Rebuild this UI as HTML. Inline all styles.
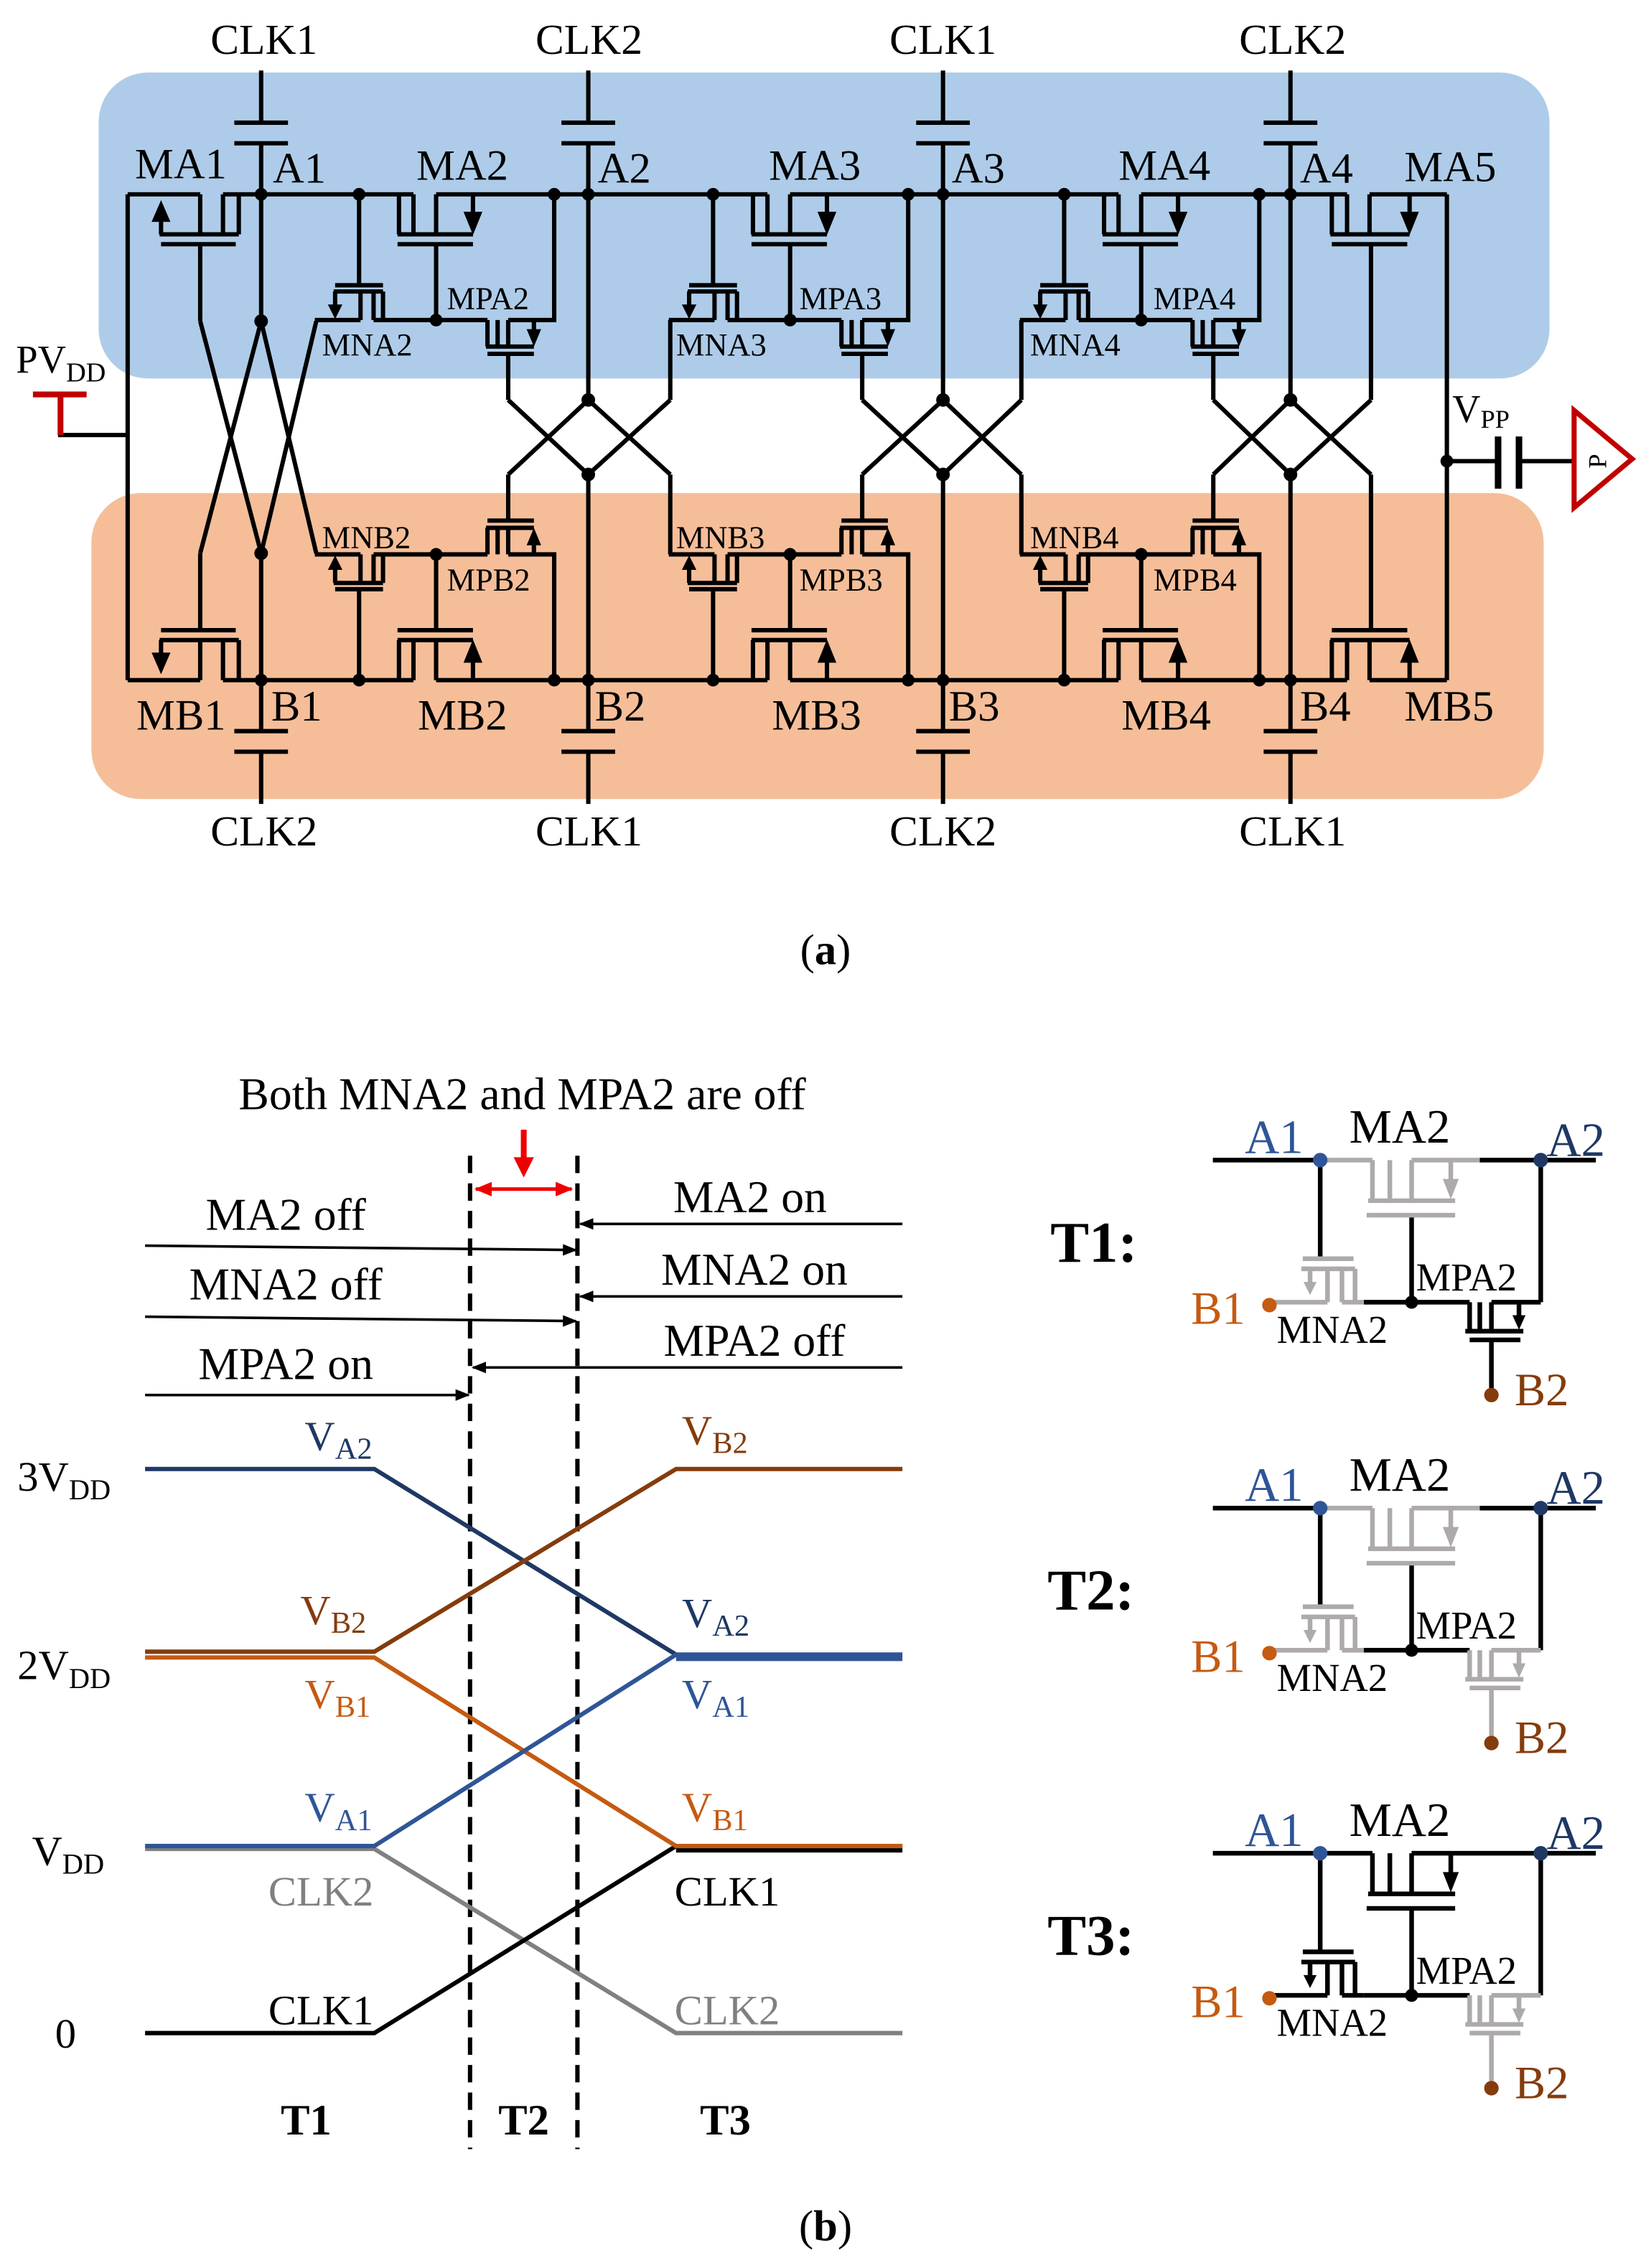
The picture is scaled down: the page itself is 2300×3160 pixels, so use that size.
<!DOCTYPE html>
<html><head><meta charset="utf-8">
<style>
html,body{margin:0;padding:0;background:#fff;}
svg{display:block;}
text{font-family:"Liberation Serif",serif;}
</style></head>
<body>
<svg width="2300" height="3160" viewBox="0 0 1138 1564" preserveAspectRatio="none" xmlns="http://www.w3.org/2000/svg">
<defs>
<marker id="ah" markerWidth="10" markerHeight="8" refX="9" refY="4" orient="auto" markerUnits="userSpaceOnUse">
<path d="M0,0 L10,4 L0,8 Z" fill="#000"/></marker>
<marker id="rh" markerWidth="12" markerHeight="10" refX="11" refY="5" orient="auto-start-reverse" markerUnits="userSpaceOnUse">
<path d="M0,0 L12,5 L0,10 Z" fill="#e00"/></marker>

<g id="st" stroke="#000" stroke-width="3" fill="none">
 <line x1="-27.5" y1="134" x2="-27.5" y2="196.7"/>
 <line x1="-44" y1="196.7" x2="-11" y2="196.7"/>
 <line x1="-45" y1="201" x2="-11" y2="201"/>
 <path d="M-17.5,220.7 V201 M-11,201 V220.7"/>
 <line x1="-26.5" y1="201" x2="-26.5" y2="220.7"/>
 <line x1="-44" y1="201" x2="-44" y2="211"/>
 <polygon points="-49,210 -39,210 -44,220" fill="#000" stroke="none"/>
 <line x1="-58" y1="220.7" x2="-26.5" y2="220.7"/>
 <line x1="-17.5" y1="220.7" x2="61" y2="220.7"/>
 <line x1="25.6" y1="168.4" x2="25.6" y2="220.7"/>
 <path d="M0,134 V161.6 M10,134 V161.6"/>
 <line x1="-1" y1="161.6" x2="51" y2="161.6"/>
 <line x1="25.6" y1="134" x2="25.6" y2="161.6"/>
 <line x1="51" y1="134" x2="51" y2="147"/>
 <polygon points="44.5,146 57.5,146 51,162" fill="#000" stroke="none"/>
 <line x1="-1" y1="168.4" x2="51" y2="168.4"/>
 <path d="M61,220.7 V239 M68,220.7 V239"/>
 <line x1="60" y1="239" x2="93" y2="239"/>
 <line x1="75.3" y1="220.7" x2="75.3" y2="239"/>
 <polyline points="75.3,220.7 107,220.7 107,134"/>
 <line x1="93" y1="220.7" x2="93" y2="228"/>
 <polygon points="88,227 98,227 93,239" fill="#000" stroke="none"/>
 <line x1="61" y1="244" x2="93" y2="244"/>
 <line x1="75.3" y1="244" x2="75.3" y2="275.8"/>
 <g fill="#000" stroke="none">
  <circle cx="-27.5" cy="134" r="4.4"/><circle cx="25.6" cy="220.7" r="4.4"/><circle cx="107" cy="134" r="4.4"/>
 </g>
</g>

<g id="half" stroke="#000" stroke-width="3" fill="none">
 <line x1="88" y1="134" x2="138" y2="134"/>
 <line x1="153.7" y1="134" x2="285" y2="134"/>
 <line x1="300.6" y1="134" x2="529" y2="134"/>
 <line x1="544.6" y1="134" x2="771" y2="134"/>
 <line x1="786.6" y1="134" x2="928.5" y2="134"/>
 <line x1="944" y1="134" x2="997.3" y2="134"/>
 <line x1="138" y1="134" x2="138" y2="161.6"/>
 <line x1="110" y1="161.6" x2="164.6" y2="161.6"/>
 <line x1="111" y1="161.6" x2="111" y2="152"/>
 <polygon points="104.5,153 117.5,153 111,138" fill="#000" stroke="none"/>
 <path d="M153.7,134 V161.6 M164.6,134 V161.6"/>
 <line x1="111" y1="168.4" x2="162.5" y2="168.4"/>
 <line x1="138" y1="168.4" x2="138" y2="221.5"/>
 <path d="M918,134 V161.6 M928.5,134 V161.6"/>
 <line x1="917" y1="161.6" x2="971.6" y2="161.6"/>
 <line x1="944" y1="134" x2="944" y2="161.6"/>
 <line x1="971.6" y1="134" x2="971.6" y2="147"/>
 <polygon points="965,146 978,146 971.6,162" fill="#000" stroke="none"/>
 <line x1="918" y1="168.4" x2="970" y2="168.4"/>
 <line x1="945" y1="168.4" x2="945" y2="275.8"/>
 <line x1="180" y1="48.6" x2="180" y2="84.6"/><line x1="161.5" y1="84.6" x2="198.5" y2="84.6"/><line x1="161.5" y1="98.8" x2="198.5" y2="98.8"/><line x1="180" y1="98.8" x2="180" y2="221.5"/>
 <line x1="405.5" y1="48.6" x2="405.5" y2="84.6"/><line x1="387" y1="84.6" x2="424" y2="84.6"/><line x1="387" y1="98.8" x2="424" y2="98.8"/><line x1="405.5" y1="98.8" x2="405.5" y2="275.8"/>
 <line x1="650" y1="48.6" x2="650" y2="84.6"/><line x1="631.5" y1="84.6" x2="668.5" y2="84.6"/><line x1="631.5" y1="98.8" x2="668.5" y2="98.8"/><line x1="650" y1="98.8" x2="650" y2="275.8"/>
 <line x1="889.5" y1="48.6" x2="889.5" y2="84.6"/><line x1="871" y1="84.6" x2="908" y2="84.6"/><line x1="871" y1="98.8" x2="908" y2="98.8"/><line x1="889.5" y1="98.8" x2="889.5" y2="275.8"/>
 <line x1="138" y1="221.5" x2="180" y2="381.5"/>
 <line x1="180" y1="221.5" x2="218" y2="381.5"/>
 <line x1="350.3" y1="275.8" x2="405.5" y2="327.2"/>
 <line x1="405.5" y1="275.8" x2="462" y2="327.2"/>
 <line x1="462" y1="220.7" x2="462" y2="275.8"/>
 <line x1="594.3" y1="275.8" x2="650" y2="327.2"/>
 <line x1="650" y1="275.8" x2="704" y2="327.2"/>
 <line x1="704" y1="220.7" x2="704" y2="275.8"/>
 <line x1="836.3" y1="275.8" x2="889.5" y2="327.2"/>
 <line x1="889.5" y1="275.8" x2="945" y2="327.2"/>
 <use href="#st" transform="translate(275,0)"/>
 <use href="#st" transform="translate(519,0)"/>
 <use href="#st" transform="translate(761,0)"/>
 <g fill="#000" stroke="none">
  <circle cx="180" cy="134" r="4.4"/><circle cx="405.5" cy="134" r="4.4"/><circle cx="650" cy="134" r="4.4"/><circle cx="889.5" cy="134" r="4.4"/>
  <circle cx="180" cy="221.5" r="4.7"/><circle cx="405.5" cy="275.8" r="4.7"/><circle cx="650" cy="275.8" r="4.7"/><circle cx="889.5" cy="275.8" r="4.7"/>
 </g>
</g>
</defs>

<rect x="68" y="50" width="1000" height="211" rx="34" fill="#aecce9"/>
<rect x="63" y="340" width="1001" height="211" rx="34" fill="#f5be99"/>

<use href="#half"/>
<use href="#half" transform="matrix(1 0 0 -1 0 603)"/>

<g stroke="#000" stroke-width="3" fill="none">
 <line x1="88" y1="134" x2="88" y2="469"/>
 <line x1="997.3" y1="134" x2="997.3" y2="469"/>
 <line x1="40" y1="300" x2="88" y2="300"/>
 <line x1="997.3" y1="318" x2="1032" y2="318"/>
 <line x1="1047" y1="318" x2="1084" y2="318"/>
 <line x1="1032.6" y1="301" x2="1032.6" y2="337" stroke-width="4.5"/>
 <line x1="1047" y1="301" x2="1047" y2="337" stroke-width="4.5"/>
</g>
<circle cx="997.3" cy="318" r="4.4" fill="#000"/>
<g stroke="#c00000" stroke-width="3.5" fill="none">
 <line x1="22.7" y1="272" x2="59.7" y2="272" stroke-width="4"/>
 <line x1="41.7" y1="272" x2="41.7" y2="300" stroke-width="4"/>
 <polygon points="1085,283 1085,350 1125,316.5"/>
</g>
<text x="0" y="0" transform="translate(1107,318) rotate(-90)" font-size="18" text-anchor="middle">P</text>

<g font-size="29.5" fill="#000" text-anchor="middle">
 <text x="182" y="37">CLK1</text><text x="406" y="37">CLK2</text><text x="650" y="37">CLK1</text><text x="891" y="37">CLK2</text>
 <text x="182" y="583">CLK2</text><text x="406" y="583">CLK1</text><text x="650" y="583">CLK2</text><text x="891" y="583">CLK1</text>
</g>
<g font-size="30" fill="#000">
 <text x="93" y="123">MA1</text><text x="287" y="124">MA2</text><text x="530" y="124">MA3</text><text x="771" y="124">MA4</text><text x="968" y="125">MA5</text>
 <text x="188" y="126">A1</text><text x="412" y="126">A2</text><text x="656" y="126">A3</text><text x="896" y="126">A4</text>
 <text x="187" y="497">B1</text><text x="410" y="497">B2</text><text x="654" y="497">B3</text><text x="896" y="497">B4</text>
 <text x="94" y="503">MB1</text><text x="288" y="503">MB2</text><text x="532" y="503">MB3</text><text x="773" y="503">MB4</text><text x="968" y="497">MB5</text>
 <text x="1001" y="291" font-size="27">V<tspan font-size="18" dy="4">PP</tspan></text>
 <text x="11" y="257" font-size="27">PV<tspan font-size="19" dy="6">DD</tspan></text>
</g>
<g font-size="22" fill="#000">
 <text x="222" y="245">MNA2</text><text x="308" y="213">MPA2</text>
 <text x="466" y="245">MNA3</text><text x="551" y="213">MPA3</text>
 <text x="710" y="245">MNA4</text><text x="795" y="213">MPA4</text>
 <text x="222" y="378">MNB2</text><text x="308" y="407">MPB2</text>
 <text x="466" y="378">MNB3</text><text x="551" y="407">MPB3</text>
 <text x="710" y="378">MNB4</text><text x="795" y="407">MPB4</text>
</g>
<text x="569" y="665" font-size="30" text-anchor="middle">(<tspan font-weight="bold">a</tspan>)</text>
<text x="569" y="1545" font-size="30" text-anchor="middle">(<tspan font-weight="bold">b</tspan>)</text>

<text x="360" y="765" font-size="31.5" text-anchor="middle">Both MNA2 and MPA2 are off</text>
<g stroke="#000" stroke-width="3" stroke-dasharray="12,7">
 <line x1="324" y1="797" x2="324" y2="1482"/>
 <line x1="398" y1="797" x2="398" y2="1482"/>
</g>
<line x1="361" y1="779" x2="361" y2="800" stroke="#e00" stroke-width="4"/>
<polygon points="354,798 368,798 361,812" fill="#e00"/>
<line x1="328" y1="820" x2="394" y2="820" stroke="#e00" stroke-width="2.5" marker-start="url(#rh)" marker-end="url(#rh)"/>
<g stroke="#000" stroke-width="1.8">
 <line x1="100" y1="859" x2="397" y2="862" marker-end="url(#ah)"/>
 <line x1="622" y1="844" x2="400" y2="844" marker-end="url(#ah)"/>
 <line x1="100" y1="908" x2="397" y2="911" marker-end="url(#ah)"/>
 <line x1="622" y1="894" x2="400" y2="894" marker-end="url(#ah)"/>
 <line x1="622" y1="943" x2="326" y2="943" marker-end="url(#ah)"/>
 <line x1="100" y1="962" x2="323" y2="962" marker-end="url(#ah)"/>
</g>
<g font-size="31.5" fill="#000" text-anchor="middle">
 <text x="197" y="848">MA2 off</text><text x="517" y="836">MA2 on</text>
 <text x="197" y="896">MNA2 off</text><text x="520" y="886">MNA2 on</text>
 <text x="197" y="951">MPA2 on</text><text x="520" y="935">MPA2 off</text>
</g>
<g font-size="29" fill="#000">
 <text x="12" y="1028">3V<tspan font-size="20" dy="6">DD</tspan></text>
 <text x="12" y="1158">2V<tspan font-size="20" dy="6">DD</tspan></text>
 <text x="22" y="1286">V<tspan font-size="20" dy="6">DD</tspan></text>
 <text x="38" y="1412">0</text>
</g>
<g fill="none" stroke-width="3">
 <polyline points="100,1013 258,1013 466,1141 622,1141" stroke="#1f3864"/>
 <polyline points="100,1275 258,1275 466,1402 622,1402" stroke="#808080"/>
 <polyline points="100,1402 258,1402 466,1273 622,1273" stroke="#000"/>
 <polyline points="100,1143 258,1143 466,1273 622,1273" stroke="#c55a11"/>
 <polyline points="100,1139 258,1139 466,1013 622,1013" stroke="#843c0c"/>
 <polyline points="100,1273 258,1273 466,1141 622,1141" stroke="#2f5597"/>
 <line x1="466" y1="1144" x2="622" y2="1144" stroke="#2f5597"/>
 <line x1="466" y1="1276" x2="622" y2="1276" stroke="#000"/>
</g>
<g font-size="29">
 <text x="210" y="1000" fill="#1f3864">V<tspan font-size="21" dy="6">A2</tspan></text>
 <text x="207" y="1120" fill="#843c0c">V<tspan font-size="21" dy="6">B2</tspan></text>
 <text x="210" y="1178" fill="#c55a11">V<tspan font-size="21" dy="6">B1</tspan></text>
 <text x="210" y="1256" fill="#2f5597">V<tspan font-size="21" dy="6">A1</tspan></text>
 <text x="185" y="1314" fill="#808080">CLK2</text>
 <text x="185" y="1396" fill="#000">CLK1</text>
 <text x="470" y="996" fill="#843c0c">V<tspan font-size="21" dy="6">B2</tspan></text>
 <text x="470" y="1122" fill="#1f3864">V<tspan font-size="21" dy="6">A2</tspan></text>
 <text x="470" y="1178" fill="#2f5597">V<tspan font-size="21" dy="6">A1</tspan></text>
 <text x="470" y="1256" fill="#c55a11">V<tspan font-size="21" dy="6">B1</tspan></text>
 <text x="465" y="1314" fill="#000">CLK1</text>
 <text x="465" y="1396" fill="#808080">CLK2</text>
</g>
<g font-size="30" font-weight="bold" text-anchor="middle">
 <text x="211" y="1472">T1</text><text x="361" y="1472">T2</text><text x="500" y="1472">T3</text>
</g>

<g font-size="40" font-weight="bold">
 <text x="724" y="870">T1:</text><text x="722" y="1110">T2:</text><text x="722" y="1348">T3:</text>
</g>

<g transform="translate(0,800)">
 <g stroke-width="3.2" fill="none">
  <line x1="836" y1="0" x2="910" y2="0" stroke="#000"/>
  <line x1="1020" y1="0" x2="1100" y2="0" stroke="#000"/>
  <line x1="910" y1="0" x2="910" y2="68" stroke="#000"/>
  <line x1="1062" y1="0" x2="1062" y2="98" stroke="#000"/>
  <line x1="973" y1="38" x2="973" y2="98" stroke="#000"/>
  <line x1="940" y1="98" x2="1013" y2="98" stroke="#000"/>
  <g stroke="#aeaaaa"><line x1="910" y1="0" x2="946" y2="0"/><path d="M946,0 V28 M958,0 V28"/><line x1="973" y1="0" x2="1020" y2="0"/><line x1="973" y1="0" x2="973" y2="28"/><line x1="1000" y1="0" x2="1000" y2="14"/><line x1="943" y1="28" x2="1003" y2="28"/><line x1="942" y1="38" x2="1003" y2="38"/></g>
  <polygon points="994.5,13 1005.5,13 1000,27" fill="#aeaaaa" stroke="none"/>
  <g stroke="#aeaaaa"><line x1="898" y1="68" x2="933" y2="68"/><line x1="897" y1="75" x2="934" y2="75"/><path d="M925,75 V98 M934,75 V98"/><line x1="915" y1="75" x2="915" y2="98"/><line x1="903" y1="75" x2="903" y2="85"/><line x1="878" y1="98" x2="915" y2="98"/><line x1="925" y1="98" x2="940" y2="98"/></g>
  <polygon points="898.5,84 907.5,84 903,93" fill="#aeaaaa" stroke="none"/>
  <g stroke="#000"><path d="M1013,98 V118 M1020,98 V118"/><line x1="1010" y1="118" x2="1050" y2="118"/><line x1="1028" y1="98" x2="1062" y2="98"/><line x1="1028" y1="98" x2="1028" y2="118"/><line x1="1047" y1="98" x2="1047" y2="108"/><line x1="1013" y1="124" x2="1048" y2="124"/><line x1="1028" y1="124" x2="1028" y2="160"/></g>
  <polygon points="1042.5,107 1051.5,107 1047,117" fill="#000" stroke="none"/>
 </g>
 <circle cx="910" cy="0" r="5" fill="#2f5597"/><circle cx="1062" cy="0" r="5" fill="#1f3864"/><circle cx="973" cy="98" r="4.5" fill="#000"/>
 <circle cx="875" cy="100" r="5" fill="#c55a11"/><circle cx="1028" cy="162" r="5" fill="#843c0c"/>
 <text x="858" y="-5" font-size="33" fill="#2f5597">A1</text><text x="930" y="-12" font-size="33">MA2</text><text x="1066" y="-3" font-size="33" fill="#1f3864">A2</text>
 <text x="976" y="90" font-size="27">MPA2</text><text x="880" y="126" font-size="27">MNA2</text>
 <text x="821" y="113" font-size="32" fill="#c55a11">B1</text><text x="1044" y="169" font-size="32" fill="#843c0c">B2</text>
</g>

<g transform="translate(0,1040)">
 <g stroke-width="3.2" fill="none">
  <line x1="836" y1="0" x2="910" y2="0" stroke="#000"/>
  <line x1="1020" y1="0" x2="1100" y2="0" stroke="#000"/>
  <line x1="910" y1="0" x2="910" y2="68" stroke="#000"/>
  <line x1="1062" y1="0" x2="1062" y2="98" stroke="#000"/>
  <line x1="973" y1="38" x2="973" y2="98" stroke="#000"/>
  <line x1="940" y1="98" x2="1013" y2="98" stroke="#000"/>
  <g stroke="#aeaaaa"><line x1="910" y1="0" x2="946" y2="0"/><path d="M946,0 V28 M958,0 V28"/><line x1="973" y1="0" x2="1020" y2="0"/><line x1="973" y1="0" x2="973" y2="28"/><line x1="1000" y1="0" x2="1000" y2="14"/><line x1="943" y1="28" x2="1003" y2="28"/><line x1="942" y1="38" x2="1003" y2="38"/></g>
  <polygon points="994.5,13 1005.5,13 1000,27" fill="#aeaaaa" stroke="none"/>
  <g stroke="#aeaaaa"><line x1="898" y1="68" x2="933" y2="68"/><line x1="897" y1="75" x2="934" y2="75"/><path d="M925,75 V98 M934,75 V98"/><line x1="915" y1="75" x2="915" y2="98"/><line x1="903" y1="75" x2="903" y2="85"/><line x1="878" y1="98" x2="915" y2="98"/><line x1="925" y1="98" x2="940" y2="98"/></g>
  <polygon points="898.5,84 907.5,84 903,93" fill="#aeaaaa" stroke="none"/>
  <g stroke="#aeaaaa"><path d="M1013,98 V118 M1020,98 V118"/><line x1="1010" y1="118" x2="1050" y2="118"/><line x1="1028" y1="98" x2="1062" y2="98"/><line x1="1028" y1="98" x2="1028" y2="118"/><line x1="1047" y1="98" x2="1047" y2="108"/><line x1="1013" y1="124" x2="1048" y2="124"/><line x1="1028" y1="124" x2="1028" y2="160"/></g>
  <polygon points="1042.5,107 1051.5,107 1047,117" fill="#aeaaaa" stroke="none"/>
 </g>
 <circle cx="910" cy="0" r="5" fill="#2f5597"/><circle cx="1062" cy="0" r="5" fill="#1f3864"/><circle cx="973" cy="98" r="4.5" fill="#000"/>
 <circle cx="875" cy="100" r="5" fill="#c55a11"/><circle cx="1028" cy="162" r="5" fill="#843c0c"/>
 <text x="858" y="-5" font-size="33" fill="#2f5597">A1</text><text x="930" y="-12" font-size="33">MA2</text><text x="1066" y="-3" font-size="33" fill="#1f3864">A2</text>
 <text x="976" y="90" font-size="27">MPA2</text><text x="880" y="126" font-size="27">MNA2</text>
 <text x="821" y="113" font-size="32" fill="#c55a11">B1</text><text x="1044" y="169" font-size="32" fill="#843c0c">B2</text>
</g>

<g transform="translate(0,1278)">
 <g stroke-width="3.2" fill="none">
  <line x1="836" y1="0" x2="910" y2="0" stroke="#000"/>
  <line x1="1020" y1="0" x2="1100" y2="0" stroke="#000"/>
  <line x1="910" y1="0" x2="910" y2="68" stroke="#000"/>
  <line x1="1062" y1="0" x2="1062" y2="98" stroke="#000"/>
  <line x1="973" y1="38" x2="973" y2="98" stroke="#000"/>
  <line x1="940" y1="98" x2="1013" y2="98" stroke="#000"/>
  <g stroke="#000"><line x1="910" y1="0" x2="946" y2="0"/><path d="M946,0 V28 M958,0 V28"/><line x1="973" y1="0" x2="1020" y2="0"/><line x1="973" y1="0" x2="973" y2="28"/><line x1="1000" y1="0" x2="1000" y2="14"/><line x1="943" y1="28" x2="1003" y2="28"/><line x1="942" y1="38" x2="1003" y2="38"/></g>
  <polygon points="994.5,13 1005.5,13 1000,27" fill="#000" stroke="none"/>
  <g stroke="#000"><line x1="898" y1="68" x2="933" y2="68"/><line x1="897" y1="75" x2="934" y2="75"/><path d="M925,75 V98 M934,75 V98"/><line x1="915" y1="75" x2="915" y2="98"/><line x1="903" y1="75" x2="903" y2="85"/><line x1="878" y1="98" x2="915" y2="98"/><line x1="925" y1="98" x2="940" y2="98"/></g>
  <polygon points="898.5,84 907.5,84 903,93" fill="#000" stroke="none"/>
  <g stroke="#aeaaaa"><path d="M1013,98 V118 M1020,98 V118"/><line x1="1010" y1="118" x2="1050" y2="118"/><line x1="1028" y1="98" x2="1062" y2="98"/><line x1="1028" y1="98" x2="1028" y2="118"/><line x1="1047" y1="98" x2="1047" y2="108"/><line x1="1013" y1="124" x2="1048" y2="124"/><line x1="1028" y1="124" x2="1028" y2="160"/></g>
  <polygon points="1042.5,107 1051.5,107 1047,117" fill="#aeaaaa" stroke="none"/>
 </g>
 <circle cx="910" cy="0" r="5" fill="#2f5597"/><circle cx="1062" cy="0" r="5" fill="#1f3864"/><circle cx="973" cy="98" r="4.5" fill="#000"/>
 <circle cx="875" cy="100" r="5" fill="#c55a11"/><circle cx="1028" cy="162" r="5" fill="#843c0c"/>
 <text x="858" y="-5" font-size="33" fill="#2f5597">A1</text><text x="930" y="-12" font-size="33">MA2</text><text x="1066" y="-3" font-size="33" fill="#1f3864">A2</text>
 <text x="976" y="90" font-size="27">MPA2</text><text x="880" y="126" font-size="27">MNA2</text>
 <text x="821" y="113" font-size="32" fill="#c55a11">B1</text><text x="1044" y="169" font-size="32" fill="#843c0c">B2</text>
</g>
</svg>
</body></html>
